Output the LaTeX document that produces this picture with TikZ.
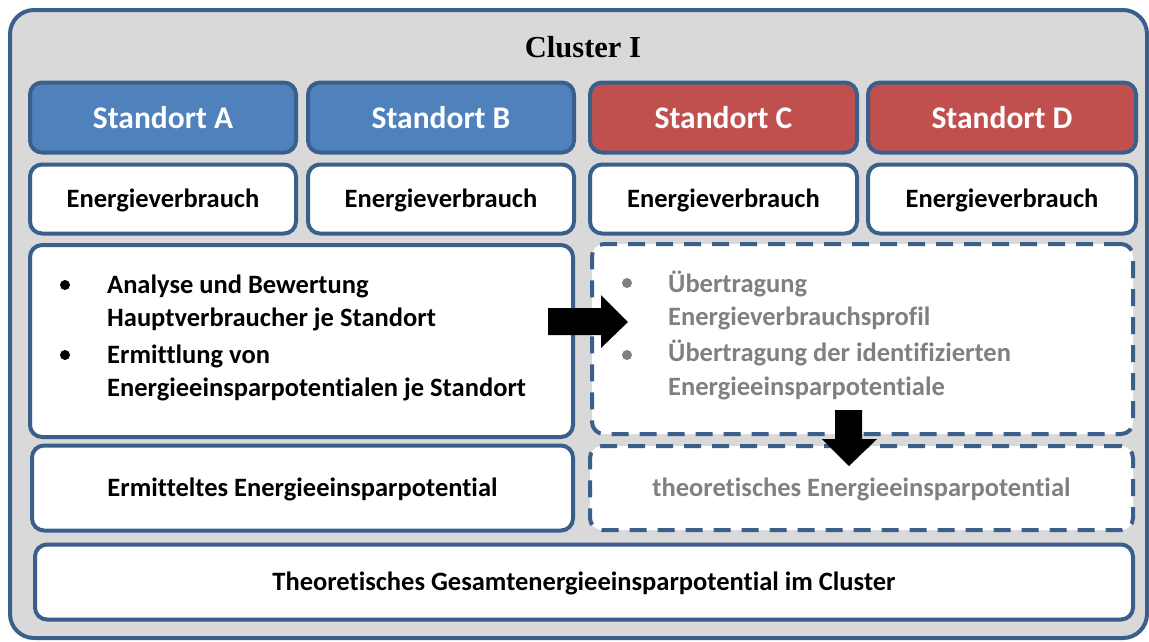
\documentclass[tikz,border=0pt]{standalone}
\usepackage{fontspec}
\setmainfont{Carlito}[Ligatures=NoCommon]
\newfontfamily\titlefont{Liberation Serif}
\definecolor{bord}{HTML}{3A5F8B}
\definecolor{blu}{HTML}{4F81BD}
\definecolor{rd}{HTML}{C0504D}
\definecolor{bg}{HTML}{D9D9D9}
\definecolor{gtx}{HTML}{808080}
\tikzset{
  box/.style={draw=bord, line width=4pt, rounded corners=12pt, fill=white, inner sep=0pt},
  dbox/.style={box, dash pattern=on 17pt off 11pt},
  stand/.style={box, font=\bfseries\fontsize{31.5}{35}\selectfont, text=white},
  lbl/.style={font=\bfseries\fontsize{26.5}{30}\selectfont, inner sep=0pt},
  clbl/.style={lbl, text depth=2pt},
  glbl/.style={lbl, text=gtx},
  blockarrow/.style={fill=black, draw=none}
}
\begin{document}
\begin{tikzpicture}[x=1pt,y=-1pt]
\useasboundingbox (0,0) rectangle (1149,641);
\node[draw=bord, fill=bg, line width=4pt, rounded corners=24pt, minimum width=1137pt, minimum height=628pt, inner sep=0pt] (outer) at (578.5,324) {};
\node[font=\titlefont\bfseries\fontsize{30.5}{34}\selectfont] (title) at (583,47) {Cluster I};
% Standorte
\node[stand, fill=blu, minimum width=266pt, minimum height=70pt] (sa) at (163,117.5) {Standort A};
\node[stand, fill=blu, minimum width=266pt, minimum height=70pt] (sb) at (441,117.5) {Standort B};
\node[stand, fill=rd, minimum width=267pt, minimum height=70pt] (sc) at (723.5,117.5) {Standort C};
\node[stand, fill=rd, minimum width=268pt, minimum height=70pt] (sd) at (1002,117.5) {Standort D};
% Energieverbrauch
\node[box, clbl, minimum width=266pt, minimum height=69pt] (ea) at (163,199) {Energieverbrauch};
\node[box, clbl, minimum width=266pt, minimum height=69pt] (eb) at (441,199) {Energieverbrauch};
\node[box, clbl, minimum width=267pt, minimum height=69pt] (ec) at (723.5,199) {Energieverbrauch};
\node[box, clbl, minimum width=268pt, minimum height=69pt] (ed) at (1002,199) {Energieverbrauch};
% big boxes
\node[box, minimum width=543pt, minimum height=192pt] (left) at (301.5,341) {};
\node[dbox, minimum width=541pt, minimum height=190pt] (right) at (862.5,339) {};
% left text
\fill (65,285) circle (5pt);
\fill (65,355) circle (5pt);
\node[lbl, anchor=base west] (l1) at (107,293) {Analyse und Bewertung};
\node[lbl, anchor=base west] (l2) at (107,326) {Hauptverbraucher je Standort};
\node[lbl, anchor=base west] (l3) at (107,363) {Ermittlung von};
\node[lbl, anchor=base west] (l4) at (107,396) {Energieeinsparpotentialen je Standort};
% right text
\fill[gtx] (627,283) circle (5pt);
\fill[gtx] (627,355) circle (5pt);
\node[glbl, anchor=base west] (r1) at (668,292) {Übertragung};
\node[glbl, anchor=base west] (r2) at (668,325) {Energieverbrauchsprofil};
\node[glbl, anchor=base west] (r3) at (668,361) {Übertragung der identifizierten};
\node[glbl, anchor=base west] (r4) at (668,395) {Energieeinsparpotentiale};
% potentials
\node[box, clbl, minimum width=541pt, minimum height=85pt] (erm) at (302.5,488) {Ermitteltes Energieeinsparpotential};
\node[dbox, glbl, text depth=2pt, minimum width=543pt, minimum height=84pt] (theo) at (861.5,488) {theoretisches Energieeinsparpotential};
\node[box, clbl, minimum width=1098pt, minimum height=75pt] (total) at (584,582) {Theoretisches Gesamtenergieeinsparpotential im Cluster};
% arrows
\fill[blockarrow] (548,308) -- (601,308) -- (601,295) -- (628,322) -- (601,348) -- (601,335) -- (548,335) -- cycle;
\fill[blockarrow] (835,410) -- (862,410) -- (862,439) -- (877,439) -- (849,466) -- (822,439) -- (835,439) -- cycle;
\end{tikzpicture}
\end{document}
